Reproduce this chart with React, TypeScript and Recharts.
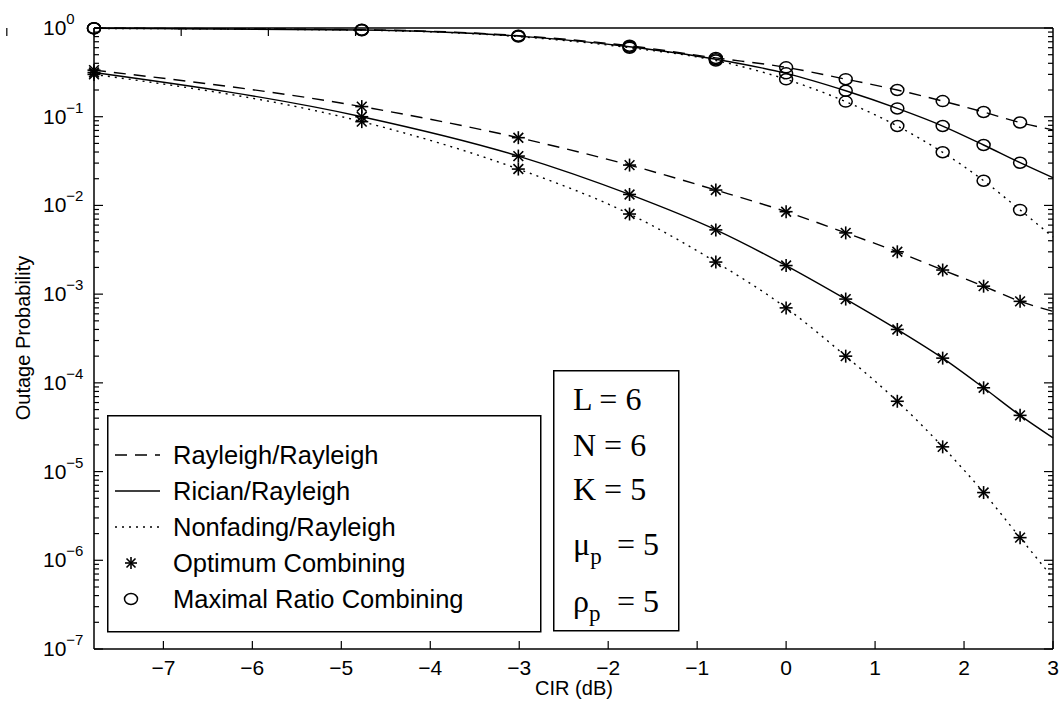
import React from "react";
import { LineChart, Line, XAxis, YAxis } from "recharts";

// CIR points in dB (the last one is only where the curves end, it has no marker)
const cirValues = [-7.78, -4.77, -3.01, -1.76, -0.79, 0, 0.67, 1.25, 1.76, 2.22, 2.63, 3];

// optimum combining (asterisks)
const ocRayleigh = [0.335, 0.13, 0.058, 0.0285, 0.0149, 0.0085, 0.0049, 0.003, 0.00187, 0.00123, 0.00083, 0.00064];
const ocRician = [0.315, 0.1, 0.036, 0.0133, 0.0053, 0.0021, 0.00088, 0.0004, 0.00019, 0.000088, 0.000043, 0.000024];
const ocNonfading = [0.3, 0.088, 0.0257, 0.008, 0.0023, 0.0007, 0.0002, 0.000062, 0.000019, 0.0000058, 0.0000018, 0.00000063];

// maximal ratio combining (circles)
const mrcRayleigh = [0.995, 0.955, 0.82, 0.63, 0.46, 0.36, 0.265, 0.2, 0.15, 0.113, 0.086, 0.071];
const mrcRician = [0.993, 0.95, 0.81, 0.615, 0.445, 0.308, 0.196, 0.124, 0.0785, 0.048, 0.0303, 0.0205];
const mrcNonfading = [0.99, 0.945, 0.8, 0.6, 0.43, 0.264, 0.148, 0.0785, 0.0397, 0.019, 0.0089, 0.0044];

const xTicks = [-7, -6, -5, -4, -3, -2, -1, 0, 1, 2, 3];
const yExponents = [-7, -6, -5, -4, -3, -2, -1, 0];
const minorSteps = [2, 3, 4, 5, 6, 7, 8, 9];

const legendLabels = [
    "Rayleigh/Rayleigh",
    "Rician/Rayleigh",
    "Nonfading/Rayleigh",
    "Optimum Combining",
    "Maximal Ratio Combining",
];

const SANS = '"Liberation Sans", Arial, Helvetica, sans-serif';
const SERIF = '"Liberation Serif", "Times New Roman", serif';
const INK = "#000";

const DASHED = "12 8";
const DOTTED = "2 5";

const chartData = cirValues.map((cir, i) => ({
    cir,
    ocRayleigh: ocRayleigh[i],
    ocRician: ocRician[i],
    ocNonfading: ocNonfading[i],
    mrcRayleigh: mrcRayleigh[i],
    mrcRician: mrcRician[i],
    mrcNonfading: mrcNonfading[i],
}));

const series = [
    { key: "ocRayleigh", dash: DASHED, marker: "star" },
    { key: "ocRician", dash: undefined, marker: "star" },
    { key: "ocNonfading", dash: DOTTED, marker: "star" },
    { key: "mrcRayleigh", dash: DASHED, marker: "circle" },
    { key: "mrcRician", dash: undefined, marker: "circle" },
    { key: "mrcNonfading", dash: DOTTED, marker: "circle" },
];

// decades plus the 2..9 minor ticks of a log axis, low to high
const allYTicks = yExponents.flatMap((e, i) =>
    i < yExponents.length - 1
        ? [Math.pow(10, e), ...minorSteps.map((m) => m * Math.pow(10, e))]
        : [Math.pow(10, e)]
);

const isMajor = (v: number) => {
    const l = Math.log10(v);
    return Math.abs(l - Math.round(l)) < 1e-6;
};

const fmtX = (v: number) => (v < 0 ? "\u2212" + Math.abs(v) : String(v));

function Star({ cx, cy, s = 6.5 }: any) {
    const d = s * 0.75;
    return (
        <g stroke={INK} strokeWidth={1.6}>
            <line x1={cx} y1={cy - s} x2={cx} y2={cy + s} />
            <line x1={cx - s} y1={cy} x2={cx + s} y2={cy} />
            <line x1={cx - d} y1={cy - d} x2={cx + d} y2={cy + d} />
            <line x1={cx - d} y1={cy + d} x2={cx + d} y2={cy - d} />
        </g>
    );
}

function Ring({ cx, cy }: any) {
    return <ellipse cx={cx} cy={cy} rx={6.5} ry={5.5} fill="none" stroke={INK} strokeWidth={1.5} />;
}

// markers at every point except the curve end at 3 dB
const makeDot = (marker: string) => (props: any) => {
    const { cx, cy, index } = props;
    if (index === cirValues.length - 1 || cx == null || cy == null) return <g key={index} />;
    return marker === "star" ? <Star key={index} cx={cx} cy={cy} /> : <Ring key={index} cx={cx} cy={cy} />;
};

function LeftTick({ y, payload }: any) {
    const v = payload.value;
    const major = isMajor(v);
    const e = Math.round(Math.log10(v));
    return (
        <g>
            <line x1={94} x2={94 + (major ? 9 : 5)} y1={y} y2={y} stroke={INK} strokeWidth={1.2} />
            {major && (
                <text x={43} y={y + 7} fontFamily={SANS} fontSize={21} fill={INK}>
                    10
                    <tspan dy={-11} fontSize={15}>
                        {e === 0 ? "0" : "\u2212" + Math.abs(e)}
                    </tspan>
                </text>
            )}
        </g>
    );
}

function RightTick({ y, payload }: any) {
    const major = isMajor(payload.value);
    return <line x1={1053} x2={1053 - (major ? 9 : 5)} y1={y} y2={y} stroke={INK} strokeWidth={1.2} />;
}

function BottomTick({ x, y, payload }: any) {
    return (
        <g>
            <line x1={x} x2={x} y1={y} y2={y - 8} stroke={INK} strokeWidth={1.2} />
            <text x={x} y={y + 26} textAnchor="middle" fontFamily={SANS} fontSize={21} fill={INK}>
                {fmtX(payload.value)}
            </text>
        </g>
    );
}

function TopTick({ x, y }: any) {
    return <line x1={x} x2={x} y1={y} y2={y + 8} stroke={INK} strokeWidth={1.2} />;
}

function YTitle() {
    return (
        <text
            x={23}
            y={338}
            transform="rotate(-90 23 338)"
            textAnchor="middle"
            dominantBaseline="central"
            fontFamily={SANS}
            fontSize={20}
            fill={INK}
        >
            Outage Probability
        </text>
    );
}

function XTitle() {
    return (
        <text x={574} y={695} textAnchor="middle" fontFamily={SANS} fontSize={20} fill={INK}>
            CIR (dB)
        </text>
    );
}

function LegendBox() {
    const rows = [40, 76, 112, 148, 184];
    return (
        <svg width={435} height={218} style={{ display: "block" }}>
            <rect x={0.75} y={0.75} width={433} height={216} fill="#fff" stroke={INK} strokeWidth={1.5} />
            <line x1={8} x2={53} y1={rows[0]} y2={rows[0]} stroke={INK} strokeWidth={1.4} strokeDasharray={DASHED} />
            <line x1={8} x2={53} y1={rows[1]} y2={rows[1]} stroke={INK} strokeWidth={1.4} />
            <line x1={8} x2={53} y1={rows[2]} y2={rows[2]} stroke={INK} strokeWidth={1.4} strokeDasharray={DOTTED} />
            <Star cx={24} cy={rows[3]} s={6} />
            <Ring cx={24} cy={rows[4]} />
            {legendLabels.map((t, i) => (
                <text key={t} x={66} y={rows[i] + 9} fontFamily={SANS} fontSize={25.5} fill={INK}>
                    {t}
                </text>
            ))}
        </svg>
    );
}

function ParamBox() {
    return (
        <svg width={127} height={262} style={{ display: "block" }}>
            <rect x={0.75} y={0.75} width={125} height={260} fill="#fff" stroke={INK} strokeWidth={1.5} />
            <g fontFamily={SERIF} fontSize={32} fill={INK}>
                <text x={20} y={40}>L = 6</text>
                <text x={20} y={86}>N = 6</text>
                <text x={20} y={130}>K = 5</text>
                <text x={20} y={185}>
                    μ<tspan fontSize={23} dy={9}>p</tspan>
                    <tspan x={64} dy={-9}>= 5</tspan>
                </text>
                <text x={20} y={242}>
                    ρ<tspan fontSize={23} dy={9}>p</tspan>
                    <tspan x={64} dy={-9}>= 5</tspan>
                </text>
            </g>
        </svg>
    );
}

export default function App() {
    return (
        <div
            style={{
                position: "fixed",
                left: 0,
                top: 0,
                width: 1060,
                height: 706,
                background: "#fff",
                overflow: "hidden",
                zIndex: 1000,
            }}
        >
            <LineChart
                width={1060}
                height={706}
                data={chartData}
                accessibilityLayer={false}
                margin={{ top: 0, right: 0, bottom: 0, left: 0 }}
            >
                <XAxis
                    xAxisId="bottom"
                    dataKey="cir"
                    type="number"
                    domain={[-7.78, 3]}
                    ticks={xTicks}
                    interval={0}
                    height={57}
                    tickSize={0}
                    tickMargin={0}
                    tickLine={false}
                    tick={<BottomTick />}
                    axisLine={{ stroke: INK, strokeWidth: 1.5 }}
                    label={{ content: () => <XTitle /> }}
                />
                <XAxis
                    xAxisId="top"
                    orientation="top"
                    type="number"
                    domain={[-7.78, 3]}
                    allowDataOverflow
                    ticks={xTicks}
                    interval={0}
                    height={28}
                    tickSize={0}
                    tickMargin={0}
                    tickLine={false}
                    tick={<TopTick />}
                    axisLine={{ stroke: INK, strokeWidth: 1.5 }}
                />
                <YAxis
                    yAxisId="left"
                    type="number"
                    scale="log"
                    domain={[1e-7, 1]}
                    ticks={allYTicks}
                    interval={0}
                    width={94}
                    tickSize={0}
                    tickMargin={0}
                    tickLine={false}
                    tick={<LeftTick />}
                    axisLine={{ stroke: INK, strokeWidth: 1.5 }}
                    label={{ content: () => <YTitle /> }}
                />
                <YAxis
                    yAxisId="right"
                    orientation="right"
                    type="number"
                    scale="log"
                    domain={[1e-7, 1]}
                    allowDataOverflow
                    ticks={allYTicks}
                    interval={0}
                    width={7}
                    tickSize={0}
                    tickMargin={0}
                    tickLine={false}
                    tick={<RightTick />}
                    axisLine={{ stroke: INK, strokeWidth: 1.5 }}
                />
                {series.map((s) => (
                    <Line
                        key={s.key}
                        xAxisId="bottom"
                        yAxisId="left"
                        dataKey={s.key}
                        type="monotone"
                        stroke={INK}
                        strokeWidth={1.4}
                        strokeDasharray={s.dash}
                        dot={makeDot(s.marker)}
                        activeDot={false}
                        legendType="none"
                        isAnimationActive={false}
                    />
                ))}
            </LineChart>
            <div style={{ position: "absolute", left: 107, top: 415 }}>
                <LegendBox />
            </div>
            <div style={{ position: "absolute", left: 553, top: 370 }}>
                <ParamBox />
            </div>
        </div>
    );
}
